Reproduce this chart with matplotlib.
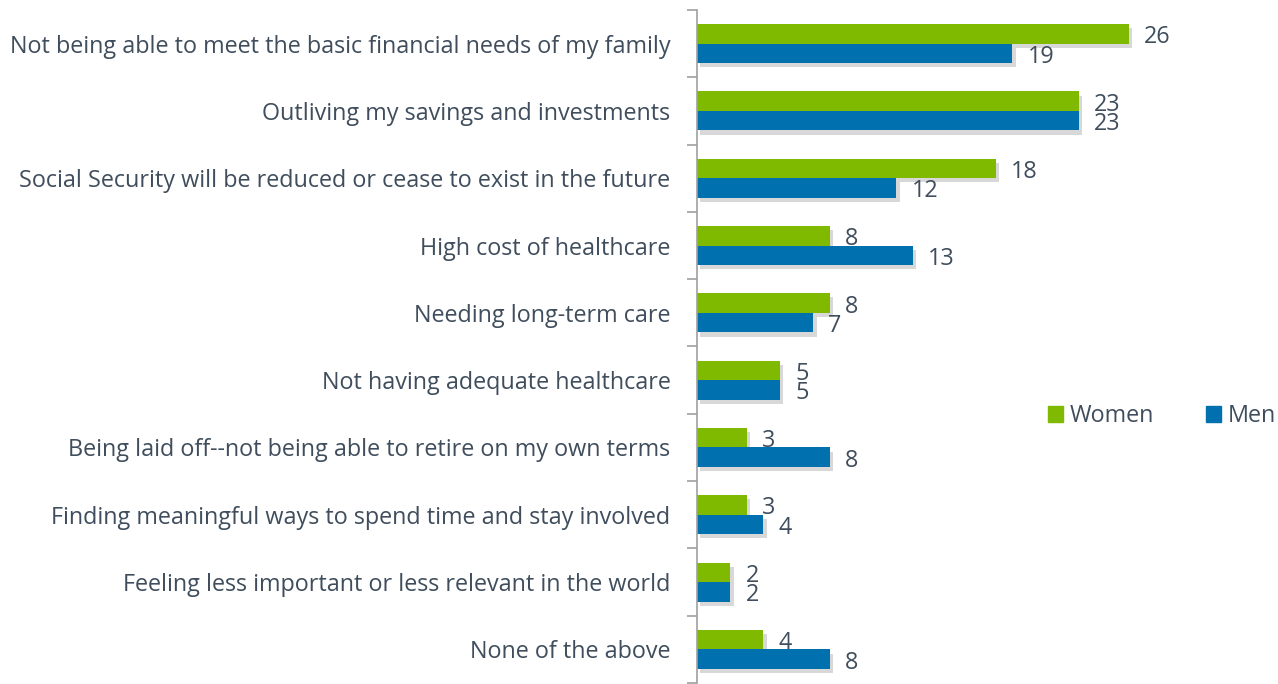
import matplotlib.pyplot as plt
import matplotlib.patheffects as pe
from matplotlib.patches import Patch
import numpy as np

categories = [
    "Not being able to meet the basic financial needs of my family",
    "Outliving my savings and investments",
    "Social Security will be reduced or cease to exist in the future",
    "High cost of healthcare",
    "Needing long-term care",
    "Not having adequate healthcare",
    "Being laid off--not being able to retire on my own terms",
    "Finding meaningful ways to spend time and stay involved",
    "Feeling less important or less relevant in the world",
    "None of the above",
]
women = [26, 23, 18, 8, 8, 5, 3, 3, 2, 4]
men = [19, 23, 12, 13, 7, 5, 8, 4, 2, 8]

GREEN = "#7fba00"
BLUE = "#0071ae"
TEXT = "#3f4d5c"


def main() -> None:
    plt.rcParams["font.family"] = ["Open Sans", "DejaVu Sans"]
    fig = plt.figure(figsize=(12.78, 6.84), dpi=100)
    ax = fig.add_axes([697 / 1278, 1 / 684, 498 / 1278, 673 / 684])

    y = np.arange(len(categories))
    h = 0.29
    shadow = [pe.SimplePatchShadow(offset=(2.5, -3), shadow_rgbFace="#808080", alpha=0.3), pe.Normal()]
    bw = ax.barh(y - h / 2, women, height=h, color=GREEN, path_effects=shadow)
    bm = ax.barh(y + h / 2, men, height=h, color=BLUE, path_effects=shadow)

    for bars, vals in ((bw, women), (bm, men)):
        for rect, v in zip(bars, vals):
            ax.annotate(str(v), (v, rect.get_y() + rect.get_height() / 2),
                        xytext=(11, -2.5), textcoords="offset points",
                        va="center", ha="left", fontsize=16.8, color=TEXT)

    ax.set_xlim(0, 30)
    ax.set_ylim(len(categories) - 0.5, -0.5)
    ax.set_yticks(y)
    ax.set_yticklabels(categories, fontsize=16.8, color=TEXT)
    ax.set_yticks(np.arange(len(categories) + 1) - 0.5, minor=True)
    ax.tick_params(axis="y", which="major", length=0, pad=19)
    ax.tick_params(axis="y", which="minor", length=7, color="#a0a0a0", width=1.2)
    ax.set_xticks([])
    for s in ("top", "right", "bottom"):
        ax.spines[s].set_visible(False)
    ax.spines["left"].set_color("#a0a0a0")
    ax.spines["left"].set_linewidth(1.2)

    handles = [Patch(color=GREEN), Patch(color=BLUE)]
    fig.legend(handles=handles, labels=["Women", "Men"], loc="center",
               bbox_to_anchor=(1162 / 1278, 1 - 416 / 684), ncol=2, frameon=False,
               fontsize=16.8, labelcolor=TEXT, handlelength=0.65, handleheight=0.65,
               handletextpad=0.3, columnspacing=2.2)

    fig.savefig("out.png", dpi=100)
    plt.close(fig)


if __name__ == "__main__":
    main()
